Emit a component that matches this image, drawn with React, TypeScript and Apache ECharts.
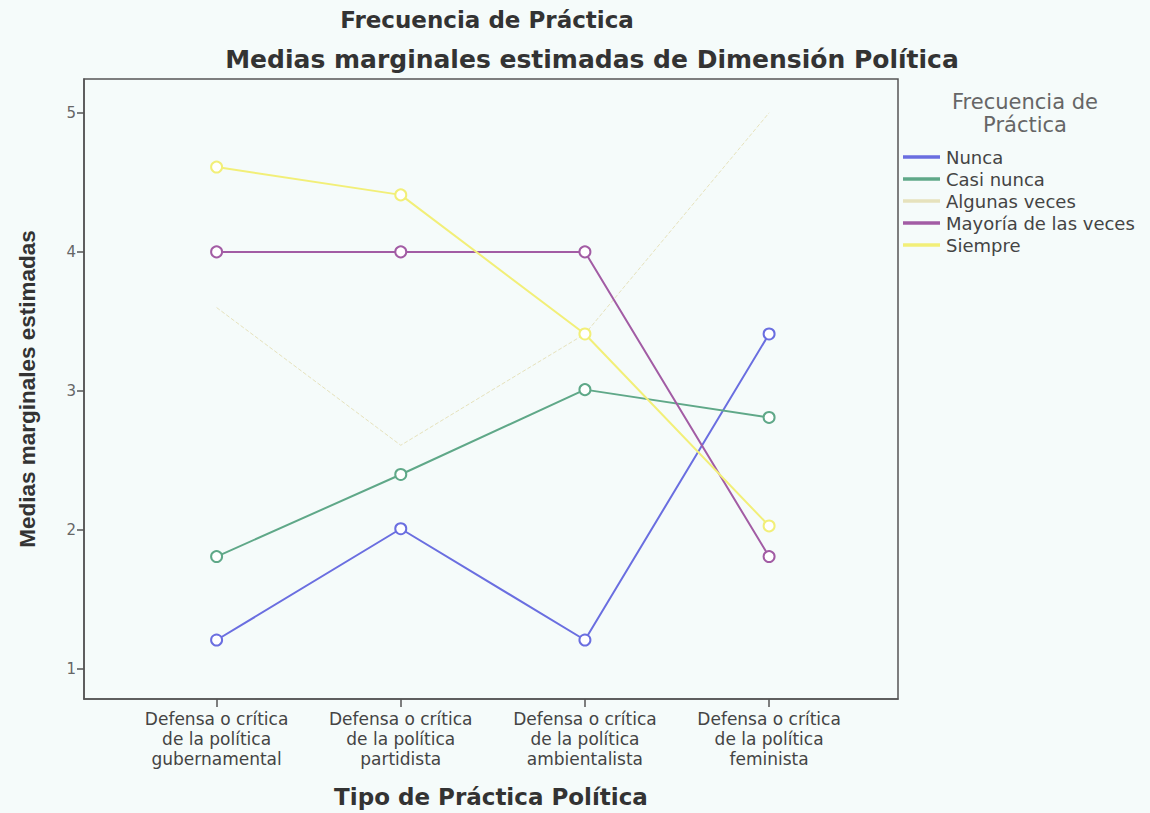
import React, { useEffect, useRef } from "react";
import * as echarts from "echarts";

const categories = [
  "Defensa o crítica\nde la política\ngubernamental",
  "Defensa o crítica\nde la política\npartidista",
  "Defensa o crítica\nde la política\nambientalista",
  "Defensa o crítica\nde la política\nfeminista",
];
const categoryPositions = [1, 2, 3, 4];
const yTicks = [1, 2, 3, 4, 5];

const seriesNames = ["Nunca", "Casi nunca", "Algunas veces", "Mayoría de las veces", "Siempre"];
const nunca = [1.21, 2.01, 1.21, 3.41];
const casiNunca = [1.81, 2.4, 3.01, 2.81];
const algunasVeces = [3.6, 2.61, 3.41, 5.0];
const mayoria = [4.0, 4.0, 4.0, 1.81];
const siempre = [4.61, 4.41, 3.41, 2.03];

const colors = ["#6a6ee0", "#5fa888", "#e6e2bc", "#a25ca4", "#f2ef78"];

const BG = "#f5fbfa";
const SANS = "'DejaVu Sans', Arial, sans-serif";

export default function App() {
  const ref = useRef<HTMLDivElement>(null);
  useEffect(() => {
    if (!ref.current) return;
    const chart = echarts.init(ref.current, null, { renderer: "svg" });
    const values = [nunca, casiNunca, algunasVeces, mayoria, siempre];
    const series = values.map((vals, si) => ({
      name: seriesNames[si],
      type: "line",
      data: vals.map((v, i) => [categoryPositions[i], v]),
      symbol: si === 2 ? "none" : "emptyCircle",
      symbolSize: 11,
      color: colors[si],
      lineStyle: {
        color: colors[si],
        width: si === 2 ? 1 : 2,
        type: si === 2 ? "dashed" : "solid",
      },
      itemStyle: { color: colors[si], borderColor: colors[si], borderWidth: 1.5 },
      z: si === 2 ? 1 : 2 + si,
    }));
    chart.setOption({
      animation: false,
      backgroundColor: BG,
      grid: {
        left: 84,
        right: 252,
        top: 79,
        bottom: 110,
        show: true,
        borderColor: "#555",
        borderWidth: 1.5,
        backgroundColor: "transparent",
      },
      xAxis: {
        type: "value",
        min: 0.28,
        max: 4.7,
        splitLine: { show: false },
        axisLine: { show: true, lineStyle: { color: "#555", width: 1.5 } },
        axisTick: {
          show: true,
          customValues: categoryPositions,
          length: 8,
          lineStyle: { color: "#555", width: 1.5 },
        },
        axisLabel: {
          customValues: categoryPositions,
          formatter: (v: number) => categories[Math.round(v) - 1] || "",
          color: "#444",
          fontFamily: SANS,
          fontSize: 17,
          lineHeight: 20,
          margin: 10,
        },
        name: "Tipo de Práctica Política",
        nameLocation: "middle",
        nameGap: 86,
        nameTextStyle: { color: "#333", fontFamily: SANS, fontWeight: "bold", fontSize: 23 },
      },
      yAxis: {
        type: "value",
        min: 0.786,
        max: 5.243,
        splitLine: { show: false },
        axisLine: { show: true, lineStyle: { color: "#555", width: 1.5 } },
        axisTick: {
          show: true,
          customValues: yTicks,
          length: 7,
          lineStyle: { color: "#555", width: 1.5 },
        },
        axisLabel: {
          customValues: yTicks,
          color: "#666",
          fontFamily: SANS,
          fontSize: 15,
          margin: 8,
        },
        name: "Medias marginales estimadas",
        nameLocation: "middle",
        nameRotate: 90,
        nameGap: 45,
        nameTextStyle: {
          color: "#333",
          fontFamily: "'Liberation Sans Narrow', 'Liberation Sans', Arial, sans-serif",
          fontWeight: "bold",
          fontSize: 22.5,
        },
      },
      legend: {
        orient: "vertical",
        left: 903,
        top: 148,
        padding: 0,
        icon: "rect",
        itemWidth: 35,
        itemHeight: 1.5,
        itemGap: 4,
        textStyle: { color: "#444", fontFamily: SANS, fontSize: 18, lineHeight: 16, padding: [0, 0, 0, 2] },
        data: seriesNames,
      },
      graphic: [
        {
          type: "text",
          x: 487,
          y: 20,
          style: {
            text: "Frecuencia de Práctica",
            fill: "#333",
            font: `bold 23px ${SANS}`,
            textAlign: "center",
            textVerticalAlign: "middle",
          },
        },
        {
          type: "text",
          x: 592,
          y: 59,
          style: {
            text: "Medias marginales estimadas de Dimensión Política",
            fill: "#333",
            font: `bold 25px ${SANS}`,
            textAlign: "center",
            textVerticalAlign: "middle",
          },
        },
        {
          type: "text",
          x: 1025,
          y: 113,
          style: {
            text: "Frecuencia de\nPráctica",
            fill: "#666",
            font: `21px ${SANS}`,
            lineHeight: 23,
            textAlign: "center",
            textVerticalAlign: "middle",
          },
        },
      ],
      series,
    });
    return () => chart.dispose();
  }, []);
  return (
    <div
      ref={ref}
      style={{ position: "fixed", left: 0, top: 0, width: 1150, height: 813, background: BG }}
    />
  );
}
